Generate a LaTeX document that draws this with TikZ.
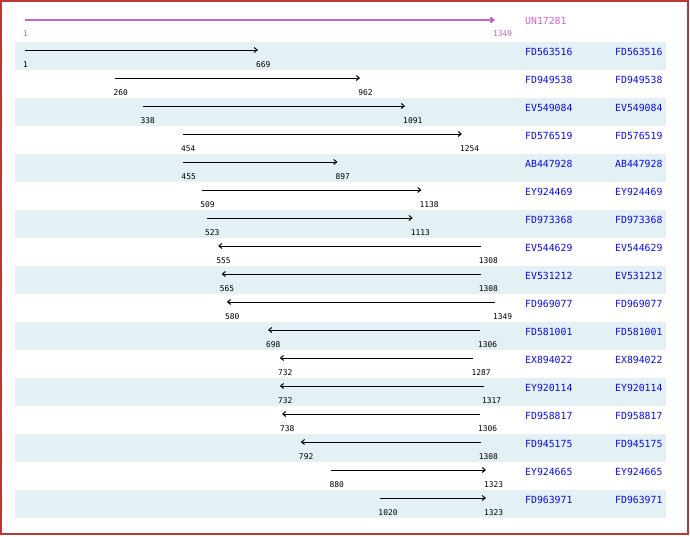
\documentclass[tikz,border=0pt]{standalone}
\usepackage{fontspec}
\setmonofont{DejaVu Sans Mono}
\usepackage{tikz}
\usetikzlibrary{arrows.meta}

\definecolor{bandblue}{RGB}{227,240,244}
\definecolor{refpurple}{RGB}{200,100,200}
\definecolor{namblue}{RGB}{10,10,230}
\definecolor{framered}{RGB}{185,55,55}

\begin{document}
\begin{tikzpicture}[x=1pt,y=-1pt,
  seqtip/.tip={Straight Barb[length=3pt,width=5pt]},
  fwd/.style={-seqtip,line width=1pt},
  rev/.style={seqtip-,line width=1pt},
  poslbl/.style={font=\ttfamily\fontsize{7.9}{8}\selectfont,anchor=west,inner sep=0pt},
  acc/.style={font=\ttfamily\fontsize{9.8}{10}\selectfont,text=namblue,anchor=west,inner sep=0pt}]
\useasboundingbox (0,0) rectangle (690,536);
\draw[framered,line width=2pt] (1,1) rectangle (688,534);
% reference sequence
\coordinate (r0) at (25,20);
\coordinate (r1) at (495,20);
\draw[refpurple,line width=2pt,-seqtip] (r0) -- (r1);
\node[poslbl,text=refpurple] (rs) at (23,34) {1};
\node[poslbl,text=refpurple] (re) at (493,34) {1349};
\node[acc,text=refpurple] (rn) at (525,21) {UN17281};
% shaded bands
\foreach \i in {0,2,...,16}
  \fill[bandblue] (15,{42+28*\i}) rectangle (666,{70+28*\i});
% aligned sequences
\foreach \i/\nam/\s/\e/\dir in {0/FD563516/1/669/fwd, 1/FD949538/260/962/fwd,
    2/EV549084/338/1091/fwd, 3/FD576519/454/1254/fwd, 4/AB447928/455/897/fwd,
    5/EY924469/509/1138/fwd, 6/FD973368/523/1113/fwd, 7/EV544629/555/1308/rev,
    8/EV531212/565/1308/rev, 9/FD969077/580/1349/rev, 10/FD581001/698/1306/rev,
    11/EX894022/732/1287/rev, 12/EY920114/732/1317/rev, 13/FD958817/738/1306/rev,
    14/FD945175/792/1308/rev, 15/EY924665/880/1323/fwd, 16/FD963971/1020/1323/fwd}
{
  \coordinate (a\i) at ({25+(\s-1)*0.34866},{50+28*\i});
  \coordinate (b\i) at ({25+(\e-1)*0.34866},{50+28*\i});
  \draw[\dir] (a\i) -- (b\i);
  \node[poslbl] (s\i) at ({23+(\s-1)*0.34866},{65+28*\i}) {\s};
  \node[poslbl] (e\i) at ({23+(\e-1)*0.34866},{65+28*\i}) {\e};
  \node[acc] (n\i) at (525,{52+28*\i}) {\nam};
  \node[acc] (m\i) at (615,{52+28*\i}) {\nam};
}
\end{tikzpicture}
\end{document}
